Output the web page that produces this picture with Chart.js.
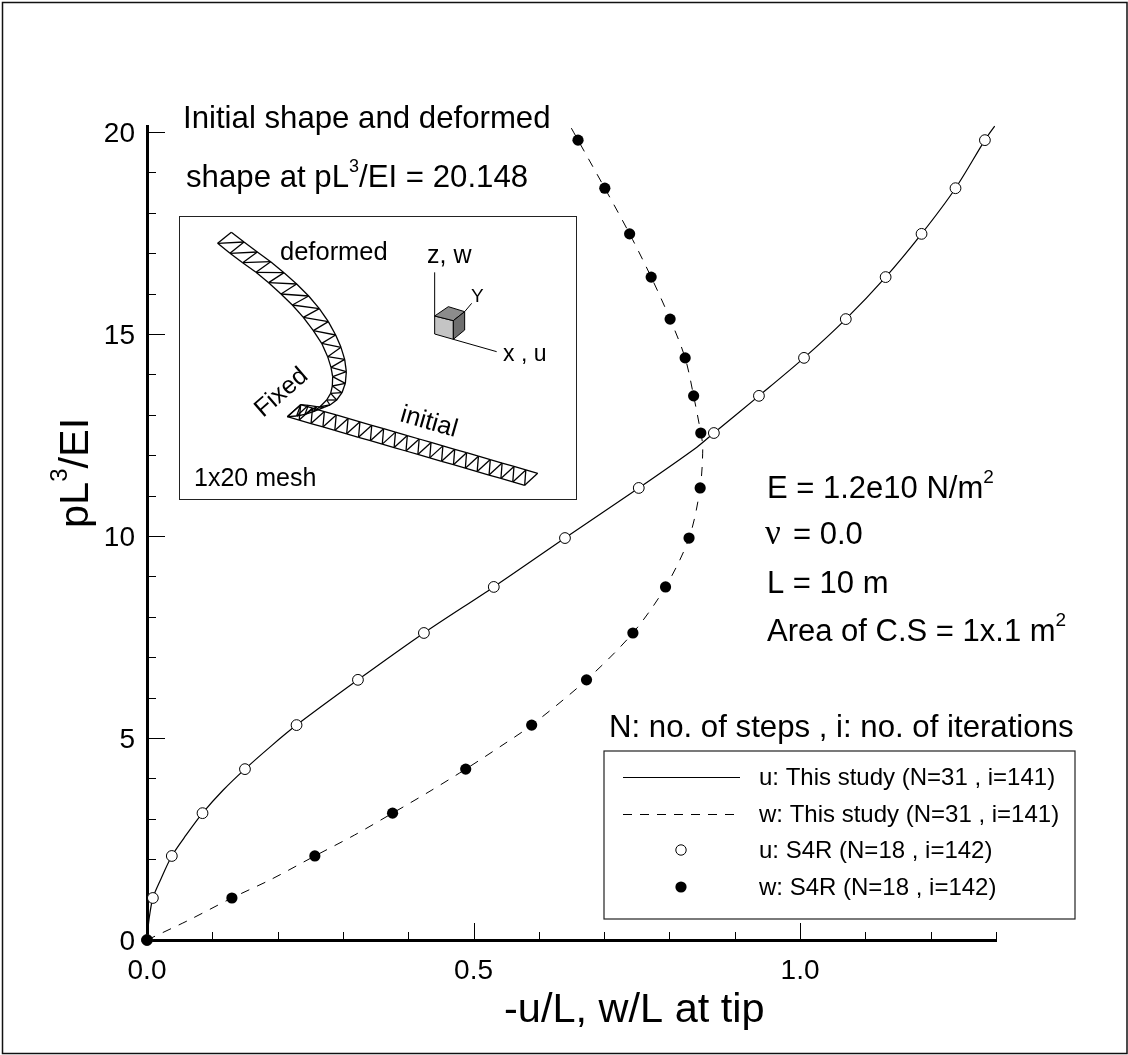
<!DOCTYPE html>
<html>
<head>
<meta charset="utf-8">
<title>Tip deflection</title>
<script src="https://cdn.jsdelivr.net/npm/chart.js@4/dist/chart.umd.min.js"></script>
<style>
    body { margin: 0; background: #fff; }
    canvas { display: block; }
</style>
</head>
<body>
<canvas id="tip-chart" width="1128" height="1055"></canvas>
<script>
// load levels
const s4rLoad = [0, 1.04, 2.08, 3.14, 4.23, 5.32, 6.44, 7.60, 8.74, 9.95, 11.19, 12.55, 13.47, 14.41, 15.37, 16.41, 17.48, 18.61, 19.80]
const s4rU = [0, 0.009, 0.038, 0.085, 0.150, 0.229, 0.323, 0.424, 0.531, 0.640, 0.753, 0.868, 0.937, 1.006, 1.070, 1.131, 1.186, 1.238, 1.283]
const s4rW = [0, 0.130, 0.257, 0.376, 0.488, 0.589, 0.673, 0.744, 0.794, 0.830, 0.847, 0.848, 0.837, 0.824, 0.801, 0.772, 0.739, 0.701, 0.660]

const studyLoad = [0, 0.5, 1.04, 1.5, 2.08, 2.6, 3.14, 3.7, 4.23, 4.8, 5.32, 6.44, 7.60, 8.74, 9.95, 11.19, 12.2, 12.55, 13.47, 14.41, 15.37, 16.41, 17.48, 18.61, 19.80, 20.148]
const studyU = [0, 0.003, 0.009, 0.021, 0.038, 0.060, 0.085, 0.116, 0.150, 0.190, 0.229, 0.323, 0.424, 0.531, 0.640, 0.753, 0.842, 0.868, 0.937, 1.006, 1.070, 1.131, 1.186, 1.238, 1.283, 1.298]
const studyW = [0, 0.065, 0.130, 0.190, 0.257, 0.318, 0.376, 0.435, 0.488, 0.542, 0.589, 0.673, 0.744, 0.794, 0.830, 0.847, 0.851, 0.848, 0.837, 0.824, 0.801, 0.772, 0.739, 0.701, 0.660, 0.648]

const xTickLabels = ["0.0", "0.5", "1.0"]
const yTickLabels = ["0", "5", "10", "15", "20"]
const seriesNames = [
    "u: This study (N=31 , i=141)",
    "w: This study (N=31 , i=141)",
    "u: S4R (N=18 , i=142)",
    "w: S4R (N=18 , i=142)"
]

const insetOuter = [[184,427],[222,456],[262,486],[302,515],[342,548],[380,582],[416,618],[448,656],[475,695],[497,735],[513,772],[524,808],[529,845],[526,880],[516,908],[500,930],[480,945],[462,952],[440,950],[415,946],[392,944]]
const insetInner = [[143,460],[180,490],[218,518],[258,547],[296,578],[333,612],[367,645],[400,682],[430,722],[455,760],[473,800],[483,832],[488,860],[487,888],[482,910],[470,930],[450,950],[430,965],[405,973],[380,978],[352,980]]

const FONT = '"Liberation Sans", Arial, sans-serif'
const font = (size) => size + "px " + FONT
const toPoints = (xs, ys) => xs.map((x, i) => ({ x: x, y: ys[i] }))
const inset = (p) => [170 + p[0] / 3, 90 + p[1] / 3]

const line = (ctx, x1, y1, x2, y2) => {
    ctx.beginPath()
    ctx.moveTo(x1, y1)
    ctx.lineTo(x2, y2)
    ctx.stroke()
}

// text with superscripts: runs are [string, fontsize, raise]
const drawRuns = (ctx, x, y, runs) => {
    runs.forEach(r => {
        ctx.font = font(r[1])
        ctx.fillText(r[0], x, y - (r[2] || 0))
        x += ctx.measureText(r[0]).width
    })
    return x
}

const poly = (ctx, pts, fill) => {
    ctx.beginPath()
    pts.forEach((p, i) => {
        const q = inset(p)
        if (i === 0) ctx.moveTo(q[0], q[1])
        else ctx.lineTo(q[0], q[1])
    })
    ctx.closePath()
    if (fill) {
        ctx.fillStyle = fill
        ctx.fill()
    }
    ctx.stroke()
}

const drawStrip = (ctx, lower, upper) => {
    ctx.lineWidth = 1.3
    ctx.strokeStyle = "#000"
    lower.forEach((p, i) => {
        const a = inset(p), b = inset(upper[i])
        line(ctx, a[0], a[1], b[0], b[1])
        if (i < lower.length - 1) {
            const c = inset(lower[i + 1]), d = inset(upper[i + 1])
            line(ctx, a[0], a[1], c[0], c[1])
            line(ctx, b[0], b[1], d[0], d[1])
            line(ctx, b[0], b[1], c[0], c[1])
        }
    })
}

const drawInset = (ctx) => {
    ctx.lineWidth = 1
    ctx.strokeStyle = "#222"
    ctx.strokeRect(179.5, 216.5, 397, 283)

    // initial strip is straight, 20 elements between its corners
    const lower = [], upper = []
    for (let i = 0; i <= 20; i++) {
        lower.push([352 + (1064 - 352) * i / 20, 980 + (1186 - 980) * i / 20])
        upper.push([392 + (1103 - 392) * i / 20, 944 + (1150 - 944) * i / 20])
    }
    drawStrip(ctx, lower, upper)
    // diagonals lean the other way on the deformed one
    drawStrip(ctx, insetOuter, insetInner)

    // axes and cube
    ctx.lineWidth = 1
    ctx.strokeStyle = "#000"
    let a = inset([794, 678]), b = inset([794, 547])
    line(ctx, a[0], a[1], b[0], b[1])
    a = inset([850, 748]); b = inset([980, 785])
    line(ctx, a[0], a[1], b[0], b[1])
    a = inset([884, 665]); b = inset([905, 640])
    line(ctx, a[0], a[1], b[0], b[1])
    poly(ctx, [[794,678],[850,692],[850,748],[794,732]], "#c4c4c4")
    poly(ctx, [[794,678],[835,650],[884,665],[850,692]], "#8c8c8c")
    poly(ctx, [[850,692],[884,665],[884,720],[850,748]], "#6e6e6e")

    ctx.fillStyle = "#000"
    ctx.textAlign = "left"
    ctx.textBaseline = "alphabetic"
    ctx.font = font(25.5)
    ctx.fillText("deformed", 280, 260)
    ctx.font = font(25)
    ctx.fillText("z, w", 427, 263)
    ctx.fillText("1x20 mesh", 194, 486)
    ctx.font = font(19)
    ctx.fillText("Y", 471, 302)
    ctx.font = font(23)
    ctx.fillText("x , u", 503, 361)

    ctx.save()
    ctx.translate(263, 418)
    ctx.rotate(-41 * Math.PI / 180)
    ctx.font = font(25)
    ctx.fillText("Fixed", 0, 0)
    ctx.restore()

    ctx.save()
    ctx.translate(399, 421)
    ctx.rotate(16 * Math.PI / 180)
    ctx.font = font(25.5)
    ctx.fillText("initial", 0, 0)
    ctx.restore()
}

const drawLegend = (ctx) => {
    ctx.strokeStyle = "#222"
    ctx.lineWidth = 1.2
    ctx.strokeRect(604, 751, 471, 168)

    const rows = [777, 814, 850, 887]
    ctx.strokeStyle = "#000"
    ctx.lineWidth = 1
    line(ctx, 623, rows[0] + 0.5, 740, rows[0] + 0.5)
    ctx.setLineDash([9, 8])
    line(ctx, 623, rows[1] + 0.5, 740, rows[1] + 0.5)
    ctx.setLineDash([])

    ctx.beginPath()
    ctx.arc(681, rows[2], 5.2, 0, Math.PI * 2)
    ctx.fillStyle = "#fff"
    ctx.fill()
    ctx.stroke()
    ctx.beginPath()
    ctx.arc(681, rows[3], 5.6, 0, Math.PI * 2)
    ctx.fillStyle = "#000"
    ctx.fill()

    ctx.textAlign = "left"
    ctx.textBaseline = "alphabetic"
    ctx.font = font(24)
    seriesNames.forEach((name, i) => {
        ctx.fillText(name, 759, rows[i] + 8)
    })
}

const drawNotes = (ctx) => {
    ctx.fillStyle = "#000"
    ctx.textAlign = "left"
    ctx.textBaseline = "alphabetic"

    ctx.font = font(31.2)
    ctx.fillText("Initial shape and deformed", 183, 128)
    drawRuns(ctx, 186, 187, [["shape at pL", 31.2], ["3", 18, 15], ["/EI = 20.148", 31.2]])

    ctx.font = font(31.2)
    ctx.fillText("N: no. of steps , i: no. of iterations", 609, 737)

    drawRuns(ctx, 767, 498, [["E = 1.2e10 N/m", 31], ["2", 19, 15]])
    ctx.font = '35px "Liberation Serif", serif'
    ctx.fillText("\u03bd", 765, 544)
    ctx.font = font(31)
    ctx.fillText("= 0.0", 793, 544)
    ctx.fillText("L = 10 m", 767, 593)
    drawRuns(ctx, 767, 641, [["Area of C.S = 1x.1 m", 31], ["2", 19, 15]])

    // axis titles
    ctx.font = font(41.5)
    ctx.fillText("-u/L, w/L at tip", 504, 1022)

    ctx.save()
    ctx.translate(88, 528)
    ctx.rotate(-Math.PI / 2)
    drawRuns(ctx, 0, 0, [["pL", 41.5], ["3", 24, 21], ["/EI", 41.5]])
    ctx.restore()
}

const decorations = {
    id: "decorations",
    beforeDatasetsDraw(chart) {
        const ctx = chart.ctx
        const xs = chart.scales.x, ys = chart.scales.y
        const area = chart.chartArea
        ctx.save()
        ctx.strokeStyle = "#000"
        ctx.lineWidth = 1
        // ticks point inwards, chart.js only draws them outwards
        xs.ticks.forEach(t => {
            const px = Math.round(xs.getPixelForValue(t.value)) + 0.5
            line(ctx, px, area.bottom, px, area.bottom - (t.label !== "" ? 17 : 8))
        })
        ys.ticks.forEach(t => {
            const py = Math.round(ys.getPixelForValue(t.value)) + 0.5
            line(ctx, area.left, py, area.left + (t.label !== "" ? 18 : 9), py)
        })
        ctx.restore()
    },
    afterDraw(chart) {
        const ctx = chart.ctx
        ctx.save()
        // page frame
        ctx.strokeStyle = "#111"
        ctx.lineWidth = 1.5
        ctx.strokeRect(2.5, 2.5, 1124.5, 1051)
        drawInset(ctx)
        drawNotes(ctx)
        drawLegend(ctx)
        ctx.restore()
    }
}

const tipChart = new Chart(document.getElementById("tip-chart"), {
    type: "scatter",
    data: {
        datasets: [
            {
                label: seriesNames[3],
                data: toPoints(s4rW, s4rLoad),
                pointRadius: 5.6,
                pointBackgroundColor: "#000",
                pointBorderWidth: 0,
                clip: false
            },
            {
                label: seriesNames[2],
                data: toPoints(s4rU, s4rLoad),
                pointRadius: 5.4,
                pointBackgroundColor: "#fff",
                pointBorderColor: "#000",
                pointBorderWidth: 1,
                clip: false
            },
            {
                label: seriesNames[1],
                data: toPoints(studyW, studyLoad),
                showLine: true,
                borderColor: "#000",
                borderWidth: 1,
                borderDash: [9, 8.5],
                tension: 0.3,
                pointRadius: 0,
                clip: false
            },
            {
                label: seriesNames[0],
                data: toPoints(studyU, studyLoad),
                showLine: true,
                borderColor: "#000",
                borderWidth: 1.2,
                tension: 0.3,
                pointRadius: 0,
                clip: false
            }
        ]
    },
    options: {
        responsive: false,
        animation: false,
        devicePixelRatio: 1,
        layout: { padding: { top: 126, right: 132, left: 0, bottom: 0 } },
        plugins: {
            legend: { display: false },
            tooltip: { enabled: false },
            title: { display: false }
        },
        scales: {
            x: {
                type: "linear",
                min: 0,
                max: 1.3,
                grid: { display: false, drawTicks: false },
                border: { display: true, color: "#000", width: 3 },
                afterFit: (scale) => { scale.height = 115 },
                ticks: {
                    stepSize: 0.1,
                    autoSkip: false,
                    maxRotation: 0,
                    includeBounds: false,
                    padding: 14,
                    color: "#000",
                    font: { family: FONT, size: 28 },
                    callback: (v) => xTickLabels.includes(v.toFixed(1)) ? v.toFixed(1) : ""
                }
            },
            y: {
                type: "linear",
                min: 0,
                max: 20.15,
                grid: { display: false, drawTicks: false },
                border: { display: true, color: "#000", width: 3 },
                afterFit: (scale) => { scale.width = 147 },
                ticks: {
                    stepSize: 1,
                    autoSkip: false,
                    includeBounds: false,
                    padding: 12,
                    labelOffset: 2,
                    color: "#000",
                    font: { family: FONT, size: 28 },
                    callback: (v) => yTickLabels.includes(String(Math.round(v))) ? String(Math.round(v)) : ""
                }
            }
        }
    },
    plugins: [decorations]
})
</script>
</body>
</html>
